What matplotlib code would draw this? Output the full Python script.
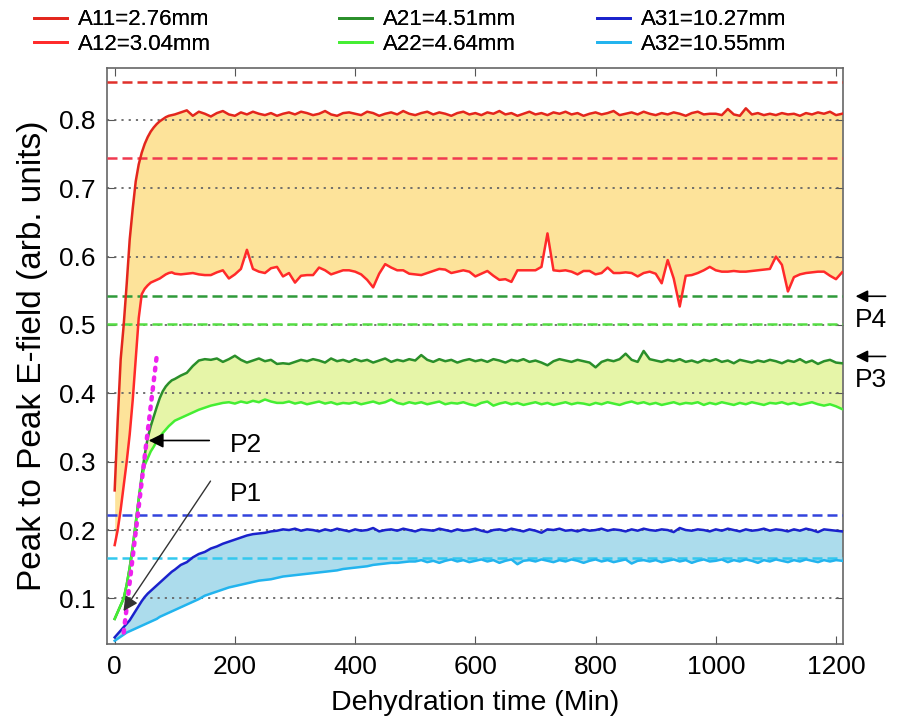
import numpy as np
import matplotlib
matplotlib.use("Agg")
import matplotlib.pyplot as plt
from matplotlib.lines import Line2D

plt.rcParams['font.family'] = ['Liberation Sans', 'DejaVu Sans']

# tempo (min): 0..95 de 5 em 5, depois 100..1210 de 10 em 10
t = np.concatenate([np.arange(0, 100, 5), np.arange(100, 1211, 10)])

a11 = [0.258, 0.36, 0.45, 0.50, 0.56, 0.625, 0.67, 0.71, 0.735, 0.752, 0.765, 0.775, 0.783, 0.789, 0.794, 0.798, 0.801, 0.804, 0.806, 0.807,
       0.808, 0.811, 0.814, 0.806, 0.812, 0.809, 0.805, 0.810, 0.813, 0.808,
       0.806, 0.811, 0.808, 0.812, 0.809, 0.807, 0.810, 0.806, 0.809, 0.811,
       0.808, 0.812, 0.810, 0.807, 0.809, 0.813, 0.808, 0.806, 0.810, 0.811,
       0.809, 0.807, 0.812, 0.810, 0.806, 0.809, 0.811, 0.808, 0.813, 0.809,
       0.807, 0.810, 0.812, 0.808, 0.811, 0.809, 0.806, 0.810, 0.812, 0.808,
       0.810, 0.807, 0.811, 0.809, 0.813, 0.808, 0.810, 0.806, 0.809, 0.812,
       0.808, 0.810, 0.807, 0.811, 0.809, 0.812, 0.808, 0.810, 0.806, 0.809,
       0.811, 0.808, 0.810, 0.813, 0.807, 0.809, 0.811, 0.808, 0.812, 0.809,
       0.807, 0.810, 0.808, 0.811, 0.809, 0.806, 0.810, 0.812, 0.808, 0.809,
       0.809, 0.807, 0.816, 0.808, 0.806, 0.817, 0.808, 0.810, 0.807, 0.809,
       0.807, 0.810, 0.808, 0.809, 0.806, 0.810, 0.808, 0.811, 0.809, 0.812,
       0.807, 0.809]

a12 = [0.178, 0.20, 0.23, 0.265, 0.30, 0.34, 0.39, 0.45, 0.51, 0.545, 0.553, 0.558, 0.562, 0.564, 0.566, 0.568, 0.571, 0.574, 0.576, 0.577,
       0.575, 0.574, 0.575, 0.576, 0.574, 0.573, 0.573, 0.577, 0.580, 0.568,
       0.574, 0.582, 0.610, 0.582, 0.578, 0.576, 0.583, 0.585, 0.571, 0.576,
       0.562, 0.572, 0.573, 0.573, 0.584, 0.580, 0.574, 0.577, 0.580, 0.580,
       0.578, 0.574, 0.566, 0.555, 0.575, 0.589, 0.584, 0.580, 0.580, 0.575,
       0.574, 0.573, 0.576, 0.579, 0.582, 0.581, 0.576, 0.578, 0.580, 0.578,
       0.571, 0.575, 0.579, 0.572, 0.566, 0.567, 0.563, 0.580, 0.580, 0.580,
       0.580, 0.585, 0.634, 0.580, 0.579, 0.580, 0.578, 0.574, 0.579, 0.579,
       0.574, 0.576, 0.584, 0.576, 0.576, 0.577, 0.576, 0.571, 0.576, 0.578,
       0.575, 0.561, 0.595, 0.568, 0.527, 0.572, 0.573, 0.576, 0.580, 0.585,
       0.580, 0.578, 0.578, 0.579, 0.578, 0.578, 0.579, 0.580, 0.581, 0.582,
       0.600, 0.588, 0.549, 0.570, 0.574, 0.576, 0.577, 0.578, 0.578, 0.572,
       0.567, 0.577]

a21 = [0.07, 0.08, 0.09, 0.10, 0.12, 0.145, 0.175, 0.21, 0.245, 0.28, 0.31, 0.335, 0.352, 0.366, 0.38, 0.393, 0.403, 0.41, 0.415, 0.419,
       0.421, 0.426, 0.430, 0.440, 0.448, 0.450, 0.449, 0.451, 0.446, 0.450,
       0.455, 0.449, 0.445, 0.448, 0.451, 0.447, 0.449, 0.443, 0.444, 0.443,
       0.446, 0.449, 0.447, 0.450, 0.448, 0.445, 0.451, 0.447, 0.449, 0.446,
       0.450, 0.447, 0.449, 0.445, 0.448, 0.451, 0.446, 0.449, 0.447, 0.450,
       0.448, 0.456, 0.449, 0.446, 0.450, 0.447, 0.449, 0.445, 0.448, 0.450,
       0.447, 0.449, 0.446, 0.450, 0.448, 0.445, 0.449, 0.447, 0.450, 0.446,
       0.448, 0.445, 0.441, 0.447, 0.450, 0.448, 0.446, 0.449, 0.447, 0.445,
       0.438, 0.446, 0.449, 0.447, 0.450, 0.458, 0.449, 0.446, 0.462, 0.450,
       0.448, 0.446, 0.449, 0.447, 0.450, 0.446, 0.448, 0.445, 0.449, 0.447,
       0.450, 0.446, 0.448, 0.444, 0.449, 0.447, 0.445, 0.448, 0.446, 0.449,
       0.447, 0.444, 0.448, 0.446, 0.450, 0.445, 0.448, 0.443, 0.447, 0.449,
       0.445, 0.444]

a22 = [0.07, 0.08, 0.09, 0.10, 0.12, 0.145, 0.175, 0.21, 0.245, 0.275, 0.295, 0.305, 0.315, 0.322, 0.33, 0.336, 0.342, 0.347, 0.352, 0.356,
       0.360, 0.364, 0.368, 0.372, 0.376, 0.379, 0.382, 0.384, 0.386, 0.387,
       0.385, 0.388, 0.386, 0.389, 0.387, 0.391, 0.388, 0.386, 0.386, 0.388,
       0.385, 0.387, 0.384, 0.386, 0.388, 0.385, 0.387, 0.384, 0.386, 0.385,
       0.387, 0.384, 0.386, 0.388, 0.385, 0.387, 0.391, 0.386, 0.384, 0.387,
       0.385, 0.387, 0.384, 0.386, 0.388, 0.384, 0.386, 0.385, 0.387, 0.384,
       0.382, 0.386, 0.388, 0.382, 0.385, 0.387, 0.384, 0.386, 0.383, 0.385,
       0.387, 0.384, 0.386, 0.383, 0.385, 0.387, 0.384, 0.386, 0.385, 0.383,
       0.386, 0.384, 0.387, 0.385, 0.383, 0.386, 0.388, 0.385, 0.387, 0.384,
       0.386, 0.383, 0.385, 0.387, 0.384, 0.386, 0.385, 0.387, 0.383, 0.386,
       0.384, 0.387, 0.385, 0.383, 0.386, 0.384, 0.387, 0.385, 0.383, 0.386,
       0.385, 0.387, 0.384, 0.386, 0.383, 0.385, 0.387, 0.384, 0.382, 0.384,
       0.381, 0.377]

a31 = [0.043, 0.048, 0.053, 0.058, 0.063, 0.068, 0.075, 0.082, 0.089, 0.096, 0.102, 0.107, 0.111, 0.115, 0.119, 0.123, 0.127, 0.131, 0.135, 0.139,
       0.142, 0.149, 0.153, 0.160, 0.165, 0.168, 0.173, 0.176, 0.180, 0.183,
       0.186, 0.189, 0.192, 0.194, 0.195, 0.196, 0.198, 0.199, 0.201, 0.200,
       0.202, 0.199, 0.201, 0.200, 0.198, 0.201, 0.199, 0.202, 0.200, 0.198,
       0.201, 0.199, 0.200, 0.203, 0.198, 0.200, 0.201, 0.199, 0.202, 0.200,
       0.198, 0.201, 0.200, 0.199, 0.202, 0.200, 0.198, 0.201, 0.199, 0.200,
       0.202, 0.199, 0.197, 0.200, 0.201, 0.199, 0.202, 0.200, 0.198, 0.201,
       0.199, 0.196, 0.201, 0.200, 0.202, 0.199, 0.200, 0.198, 0.201, 0.199,
       0.200, 0.202, 0.199, 0.201, 0.200, 0.198, 0.201, 0.199, 0.202, 0.200,
       0.199, 0.201, 0.200, 0.197, 0.203, 0.200, 0.199, 0.201, 0.200, 0.198,
       0.201, 0.199, 0.202, 0.200, 0.198, 0.201, 0.199, 0.200, 0.202, 0.199,
       0.201, 0.200, 0.198, 0.201, 0.199, 0.202, 0.200, 0.197, 0.201, 0.200,
       0.199, 0.198]

a32 = [0.038, 0.041, 0.044, 0.047, 0.050, 0.052, 0.054, 0.056, 0.058, 0.060, 0.062, 0.064, 0.066, 0.068, 0.070, 0.073, 0.075, 0.077, 0.079, 0.081,
       0.083, 0.087, 0.091, 0.095, 0.099, 0.104, 0.107, 0.110, 0.113, 0.116,
       0.118, 0.120, 0.122, 0.124, 0.126, 0.127, 0.128, 0.130, 0.132, 0.133,
       0.134, 0.135, 0.136, 0.137, 0.138, 0.139, 0.140, 0.141, 0.143, 0.144,
       0.145, 0.146, 0.147, 0.149, 0.150, 0.151, 0.152, 0.152, 0.153, 0.154,
       0.154, 0.156, 0.153, 0.155, 0.152, 0.155, 0.157, 0.154, 0.156, 0.153,
       0.155, 0.157, 0.154, 0.156, 0.152, 0.155, 0.157, 0.150, 0.155, 0.156,
       0.154, 0.157, 0.155, 0.153, 0.156, 0.154, 0.157, 0.155, 0.152, 0.155,
       0.157, 0.154, 0.156, 0.153, 0.155, 0.157, 0.151, 0.155, 0.156, 0.154,
       0.156, 0.153, 0.155, 0.157, 0.154, 0.156, 0.152, 0.155, 0.157, 0.154,
       0.155, 0.157, 0.153, 0.156, 0.154, 0.157, 0.155, 0.152, 0.156, 0.154,
       0.157, 0.155, 0.153, 0.156, 0.154, 0.157, 0.155, 0.153, 0.156, 0.154,
       0.156, 0.155]

# linhas tracejadas de referencia
ref_vals = [0.855, 0.745, 0.542, 0.502, 0.222, 0.159]
ref_cores = ['#e0302a', '#f03a50', '#2f9a3a', '#55dd44', '#3344dd', '#33c8ee']

labels = ['A11=2.76mm', 'A12=3.04mm', 'A21=4.51mm', 'A22=4.64mm', 'A31=10.27mm', 'A32=10.55mm']
cores = ['#e3261d', '#ff2a2a', '#2a8f2a', '#44ee33', '#1a22cc', '#22b4ee']

# linha pontilhada magenta (x, y)
mag_x = [15, 70]
mag_y = [0.05, 0.455]

fig = plt.figure(figsize=(8.98, 7.23), dpi=100)
ax = fig.add_axes([0.119, 0.109, 0.820, 0.797])

ax.fill_between(t, a11, a12, color='#fde39a', lw=0, zorder=1)
ax.fill_between(t, a21, a22, color='#e6f5a8', lw=0, zorder=1)
ax.fill_between(t, a31, a32, color='#acdcec', lw=0, zorder=1)

# grade pontilhada por cima do preenchimento
for v in [0.1, 0.2, 0.3, 0.4, 0.5, 0.6, 0.7, 0.8]:
    ax.axhline(v, color='#666666', lw=1.3, ls=(0, (1.2, 2.8)), zorder=2)

for v, c in zip(ref_vals, ref_cores):
    ax.axhline(v, color=c, lw=1.8, ls=(0, (4, 2)), zorder=3)

series = [a11, a12, a21, a22, a31, a32]
for s, c in zip(series, cores):
    ax.plot(t, s, color=c, lw=1.8, zorder=4)

ax.plot(mag_x, mag_y, color='#ee22ee', lw=3.2, ls=(0, (0.6, 1.6)), dash_capstyle='round', zorder=5)

ax.set_xlim(-13, 1212)
ax.set_ylim(0.033, 0.876)
ax.set_xticks([0, 200, 400, 600, 800, 1000, 1200])
ax.set_yticks([0.1, 0.2, 0.3, 0.4, 0.5, 0.6, 0.7, 0.8])
ax.tick_params(direction='in', top=True, right=True, labelsize=19, length=6, color='#555555', pad=8)
for sp in ax.spines.values():
    sp.set_color('#666666')
    sp.set_linewidth(1.2)

ax.set_xlabel('Dehydration time (Min)', fontsize=20.5, labelpad=8)
ax.set_ylabel('Peak to Peak E-field (arb. units)', fontsize=24, labelpad=8)

# setas P1, P2
ax.annotate('', xy=(52, 0.331), xytext=(162, 0.331),
            arrowprops=dict(arrowstyle='-|>', color='black', lw=1.2, mutation_scale=22), zorder=6)
ax.text(192, 0.324, 'P2', fontsize=19, va='center', ha='left')
ax.annotate('', xy=(12, 0.078), xytext=(162, 0.275),
            arrowprops=dict(arrowstyle='-|>', color='#333333', lw=1.0, mutation_scale=22), zorder=6)
ax.text(192, 0.252, 'P1', fontsize=19, va='center', ha='left')

# setas P3, P4 fora do eixo
ax.annotate('', xy=(1228, 0.542), xytext=(1287, 0.542), annotation_clip=False,
            arrowprops=dict(arrowstyle='-|>', color='black', lw=1.2, mutation_scale=18))
ax.text(1232, 0.508, 'P4', fontsize=19, va='center', ha='left', clip_on=False)
ax.annotate('', xy=(1228, 0.454), xytext=(1287, 0.454), annotation_clip=False,
            arrowprops=dict(arrowstyle='-|>', color='black', lw=1.2, mutation_scale=18))
ax.text(1232, 0.420, 'P3', fontsize=19, va='center', ha='left', clip_on=False)

# legenda em 3 colunas
handles = [Line2D([], [], color=c, lw=2) for c in cores]
x_cols = [0.035, 0.375, 0.662]
for i, x0 in enumerate(x_cols):
    leg = fig.legend(handles[2 * i:2 * i + 2], labels[2 * i:2 * i + 2], loc='upper left',
                     bbox_to_anchor=(x0, 0.99), frameon=False, fontsize=16,
                     handlelength=1.5, handletextpad=0.5, labelspacing=0.15,
                     borderpad=0.1, borderaxespad=0)
    fig.add_artist(leg)

fig.savefig('out.png', dpi=100)
